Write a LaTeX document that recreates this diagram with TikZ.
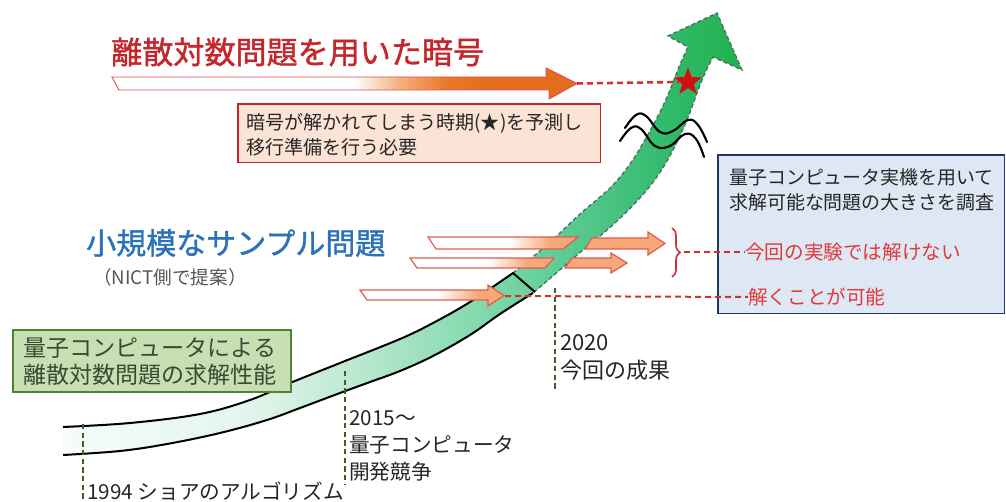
\documentclass[tikz,border=0pt]{standalone}
\usepackage{fontspec}
\setmainfont{Noto Sans CJK JP}
\newfontfamily\jpbold[FakeBold=1.3]{Noto Sans CJK JP}
\usetikzlibrary{shapes.geometric,decorations.pathreplacing}
\definecolor{titlered}{HTML}{C3262B}
\definecolor{sampleblue}{HTML}{2B72B8}
\definecolor{peach}{HTML}{FBE4D5}
\definecolor{boxred}{HTML}{C0282D}
\definecolor{bluefill}{HTML}{DDE8F4}
\definecolor{bluedraw}{HTML}{203864}
\definecolor{greenfill}{HTML}{C6E0B4}
\definecolor{greendraw}{HTML}{548235}
\definecolor{greentext}{HTML}{3A4A30}
\definecolor{txt}{HTML}{262626}
\definecolor{lblgray}{HTML}{555555}
\definecolor{redtxt}{HTML}{E03A3A}
\definecolor{dashred}{HTML}{D03030}
\definecolor{salmon}{HTML}{F6A878}
\definecolor{salmondraw}{HTML}{E25B4F}
\definecolor{starred}{HTML}{D40F14}
\definecolor{vgreen}{HTML}{3E5E2E}
\definecolor{banddash}{HTML}{4F6F5A}
\definecolor{bandA}{HTML}{F6FCF9}
\definecolor{bandB}{HTML}{E3F5EC}
\definecolor{bandC}{HTML}{BFE9D3}
\definecolor{bandD}{HTML}{8FDDB5}
\definecolor{bandE}{HTML}{6CD19D}
\definecolor{bandF}{HTML}{4DC585}
\definecolor{bandG}{HTML}{2EB866}
\definecolor{bandH}{HTML}{22B14C}
\definecolor{orA}{HTML}{F3B07A}
\definecolor{orB}{HTML}{E8782A}
\definecolor{orC}{HTML}{E46C1A}
\definecolor{arrowline}{HTML}{D9505A}
\pgfdeclarehorizontalshading{bandshade}{100bp}{color(0bp)=(bandA); color(25bp)=(bandA); color(38.8bp)=(bandB); color(46bp)=(bandC); color(53.5bp)=(bandD); color(59.4bp)=(bandE); color(64.5bp)=(bandF); color(70.4bp)=(bandG); color(75bp)=(bandH); color(100bp)=(bandH)}
\pgfdeclarehorizontalshading{bigshade}{100bp}{color(0bp)=(white); color(51bp)=(white); color(56bp)=(orA); color(61bp)=(orB); color(66bp)=(orC); color(100bp)=(orC)}
\pgfdeclarehorizontalshading{tailshade}{100bp}{color(0bp)=(white); color(52bp)=(white); color(66bp)=(salmon); color(100bp)=(salmon)}
\begin{document}
\begin{tikzpicture}[x=0.75pt,y=-0.75pt,
  lbl/.style={font=\fontsize{15.5}{20}\selectfont, text=txt, inner sep=0pt, anchor=west, align=left},
  boxtext/.style={font=\fontsize{14.3}{18.5}\selectfont, text=txt, inner sep=0pt, anchor=west, align=left},
  redlabel/.style={font=\fontsize{14.7}{18}\selectfont, text=redtxt, inner sep=0pt, anchor=west},
  reddash/.style={draw=dashred, line width=1.5pt, dash pattern=on 4.5pt off 3pt},
  vdash/.style={draw=vgreen, line width=1pt, dash pattern=on 4pt off 2.5pt},
  tailarrow/.style={shading=tailshade, draw=salmondraw, line width=0.9pt},
  headarrow/.style={fill=salmon, draw=salmondraw, line width=0.9pt},
  bandedge/.style={draw=black, line width=1.5pt},
  wave/.style={draw=black, line width=1.6pt, line cap=round}
]
\useasboundingbox (0,0) rectangle (1006,502);

% title
\node[anchor=west, inner sep=0pt, font=\jpbold\fontsize{23.3}{28}\selectfont, text=titlered] (title) at (111,52) {離散対数問題を用いた暗号};

% big orange arrow
\shade[shading=bigshade, draw=arrowline, line width=0.7pt] (112,77) -- (546,77) -- (546,68) -- (577,83.5) -- (549,99) -- (549,90) -- (119,90) -- cycle;
\coordinate (bigtip) at (577,83.5);

% box: prediction
\node[draw=boxred, fill=peach, line width=1.3pt, minimum width=272pt, minimum height=44pt, anchor=north west, inner sep=0pt] (predbox) at (237,103) {};
\node[boxtext] (predtext) at (246,135) {暗号が解かれてしまう時期(★)を予測し\\移行準備を行う必要};

% blue box
\node[draw=bluedraw, fill=bluefill, line width=1.3pt, minimum width=215pt, minimum height=119pt, anchor=north west, inner sep=0pt] (bluebox) at (717,154) {};
\node[boxtext, font=\fontsize{14.2}{18.8}\selectfont] (bluetext) at (729,189.5) {量子コンピュータ実機を用いて\\求解可能な問題の大きさを調査};

% green band
\shade[shading=bandshade] plot[smooth,tension=0.6] coordinates {(63,427) (130,423) (200,414) (250,400) (290,383) (340,363) (400,339) (433,323) (470,302) (513,273) (548,244) (580,214) (610,188) (630,164) (646,138) (660,112) (670,90) (679,67) (688,47)} -- (668,36) -- (717,13) -- (742,70) -- plot[smooth,tension=0.6] coordinates {(713,57) (705,73) (697,93) (689,115) (678,140) (664,166) (646,191) (616,222) (576,256) (533,293) (500,314) (470,335) (433,356) (400,371) (370,382) (340,393) (300,408) (267,420) (220,433) (167,444) (120,451) (63,455)} -- cycle;
\draw[draw=banddash, line width=1pt, dash pattern=on 3pt off 2pt] plot[smooth,tension=0.6] coordinates {(513,273) (548,244) (580,214) (610,188) (630,164) (646,138) (660,112) (670,90) (679,67) (688,47)} -- (668,36) -- (717,13) -- (742,70) -- plot[smooth,tension=0.6] coordinates {(713,57) (705,73) (697,93) (689,115) (678,140) (664,166) (646,191) (616,222) (576,256) (533,293)};
\draw[bandedge] plot[smooth,tension=0.6] coordinates {(63,427) (130,423) (200,414) (250,400) (290,383) (340,363) (400,339) (433,323) (470,302) (513,273)} -- (535,292);
\draw[bandedge] plot[smooth,tension=0.6] coordinates {(63,455) (120,451) (167,444) (220,433) (267,420) (300,408) (340,393) (370,382) (400,371) (433,356) (470,335) (500,314) (533,293)};

% vertical dashed time markers
\coordinate (t1top) at (83,424);
\coordinate (t1bot) at (83,502);
\coordinate (t2top) at (345,371);
\coordinate (t2bot) at (345,484);
\coordinate (t3top) at (555,288);
\coordinate (t3bot) at (555,390);
\draw[vdash] (t1top) -- (t1bot);
\draw[vdash] (t2top) -- (t2bot);
\draw[vdash] (t3top) -- (t3bot);

% sample problem arrows
\shade[tailarrow] (428,237) -- (578,237) -- (563,249) -- (436,249) -- cycle;
\draw[headarrow] (592,238) -- (648,238) -- (648,232) -- (665,243.5) -- (648,255) -- (648,249) -- (585,249) -- cycle;
\shade[tailarrow] (410,258) -- (554,258) -- (545,268) -- (417,268) -- cycle;
\draw[headarrow] (572,258) -- (611,258) -- (611,253) -- (627,263) -- (611,273) -- (611,268) -- (565,268) -- cycle;
\shade[tailarrow] (360,290) -- (488,290) -- (488,285) -- (504,295.5) -- (488,306) -- (488,300) -- (367,300) -- cycle;
\coordinate (smalltip) at (505,296);

% star and break marks
\node[star, star points=5, star point ratio=2.4, fill=starred, minimum size=22pt, inner sep=0pt] (star) at (688,82) {};
\draw[reddash, line width=1.9pt] (bigtip) -- (star.west);
\draw[wave] plot[smooth,tension=0.7] coordinates {(625,128) (636,115) (646,116) (660,132) (673,131) (688,120) (698,125) (707,142)};
\draw[wave] plot[smooth,tension=0.7] coordinates {(620,141) (631,128) (641,129) (655,146) (670,146) (685,134) (696,139) (704,157)};

% green box
\node[draw=greendraw, fill=greenfill, line width=1.6pt, minimum width=208.5pt, minimum height=46.5pt, anchor=north west, inner sep=0pt] (greenbox) at (12,329) {};
\node[anchor=west, inner sep=0pt, align=left, font=\fontsize{17.3}{20.3}\selectfont, text=greentext] (greentext) at (23,361.5) {量子コンピュータによる\\離散対数問題の求解性能};

% sample problems title
\node[anchor=west, inner sep=0pt, font=\jpbold\fontsize{22.5}{27}\selectfont, text=sampleblue] (sampletitle) at (86,243) {小規模なサンプル問題};
\node[anchor=west, inner sep=0pt, font=\fontsize{14}{17}\selectfont, text=lblgray] (nict) at (93,277) {（NICT側で提案）};

% time labels
\node[lbl] (l1994) at (87,491) {1994 ショアのアルゴリズム};
\node[lbl] (l2015) at (349,446) {2015～\\量子コンピュータ\\開発競争};
\node[lbl, font=\fontsize{16.5}{21.5}\selectfont] (l2020) at (560,357.5) {2020\\今回の成果};

% brace and result labels
\draw[draw=dashred, line width=1.2pt, decorate, decoration={brace, amplitude=6pt}] (672,228) -- (672,277);
\coordinate (bracetip) at (684,252.5);
\node[redlabel] (cannot) at (745,252.5) {今回の実験では解けない};
\node[redlabel] (can) at (748,297) {解くことが可能};
\draw[reddash] (bracetip) -- (cannot.west);
\draw[reddash] (smalltip) -- (can.west);
\end{tikzpicture}
\end{document}
